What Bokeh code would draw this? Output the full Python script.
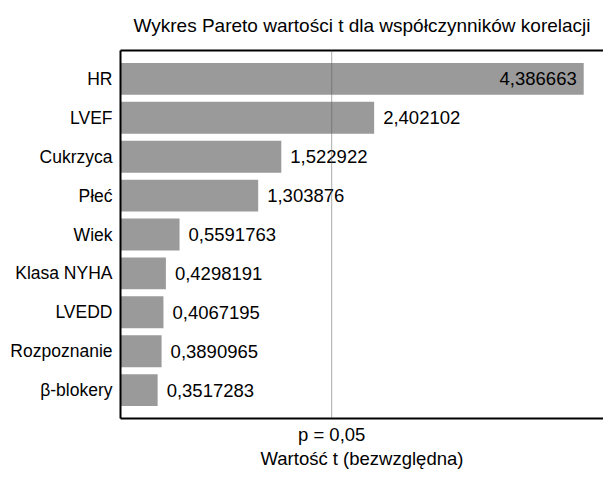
from bokeh.plotting import figure
from bokeh.models import (FactorRange, Range1d, ColumnDataSource, LinearAxis,
                          FixedTicker, Span)
from bokeh.core.properties import value
from bokeh.embed import file_html
from bokeh.resources import INLINE

# ---- data ----
factors = ["HR", "LVEF", "Cukrzyca", "Płeć", "Wiek", "Klasa NYHA", "LVEDD",
           "Rozpoznanie", "β-blokery"]
t_values = [4.386663, 2.402102, 1.522922, 1.303876, 0.5591763, 0.4298191,
            0.4067195, 0.3890965, 0.3517283]
crit_ticks = [2.0]
crit_labels = ["p = 0,05"]
title_text = "Wykres Pareto wartości t dla współczynników korelacji"
x_label = "Wartość t (bezwzględna)"

FONT = "Liberation Sans"

labels = [str(v).replace(".", ",") for v in t_values]
inside = [v > 3 for v in t_values]
src = ColumnDataSource(dict(
    y=factors, x=t_values, label=labels,
    align=["right" if i else "left" for i in inside],
    off=[-7 if i else 9 for i in inside],
))

p = figure(width=603, height=481, output_backend="svg", toolbar_location=None,
           y_range=FactorRange(factors=list(reversed(factors)), range_padding=0.0512),
           x_range=Range1d(0, 4.574),
           x_axis_type=None, min_border_left=120, min_border_top=50,
           min_border_right=0, min_border_bottom=63)
p.outline_line_color = None
p.border_fill_color = "white"
p.grid.visible = False
p.background_fill_color = "white"

p.hbar(y="y", right="x", left=0, height=0.82, source=src,
       fill_color="#9a9a9a", line_color=None)

p.text(x="x", y="y", text="label", source=src, text_align="align",
       x_offset="off", text_baseline="middle", text_font=value(FONT),
       text_font_size="18.5px", text_color="black")

p.add_layout(Span(location=crit_ticks[0], dimension="height", line_color="#555555",
                  line_width=1, line_dash="1 1"))

# left axis
ya = p.yaxis[0]
ya.axis_line_width = 2
ya.axis_line_color = "black"
ya.major_tick_out = 0
ya.major_tick_in = 0
ya.major_label_standoff = 8
ya.major_label_text_font = FONT
ya.major_label_text_font_size = "17.5px"
ya.major_label_text_color = "black"

# bottom axis
xa = LinearAxis(ticker=FixedTicker(ticks=crit_ticks),
                major_label_overrides={t: l for t, l in zip(crit_ticks, crit_labels)},
                axis_label=x_label)
xa.axis_line_width = 2
xa.major_tick_out = 0
xa.major_tick_in = 0
xa.minor_tick_out = 0
xa.minor_tick_in = 0
xa.major_label_standoff = 5
xa.major_label_text_font = FONT
xa.major_label_text_font_size = "18.5px"
xa.major_label_text_color = "black"
xa.axis_label_text_font = FONT
xa.axis_label_text_font_size = "18.5px"
xa.axis_label_text_font_style = "normal"
xa.axis_label_text_color = "black"
xa.axis_label_standoff = 0
p.add_layout(xa, "below")

# top border
ta = LinearAxis(ticker=FixedTicker(ticks=[]), major_tick_out=0, major_tick_in=0,
                minor_tick_out=0, minor_tick_in=0, major_label_text_font_size="0px",
                major_label_standoff=0, axis_label_standoff=0)
ta.axis_line_width = 2
p.add_layout(ta, "above")

p.title.text = title_text
p.title.align = "center"
p.title.vertical_align = "top"
p.title.offset = 9
p.title.text_font = FONT
p.title.text_font_size = "19px"
p.title.text_font_style = "normal"
p.title.text_color = "black"
p.title.standoff = 25

open("out.html", "w").write(file_html(p, INLINE))
